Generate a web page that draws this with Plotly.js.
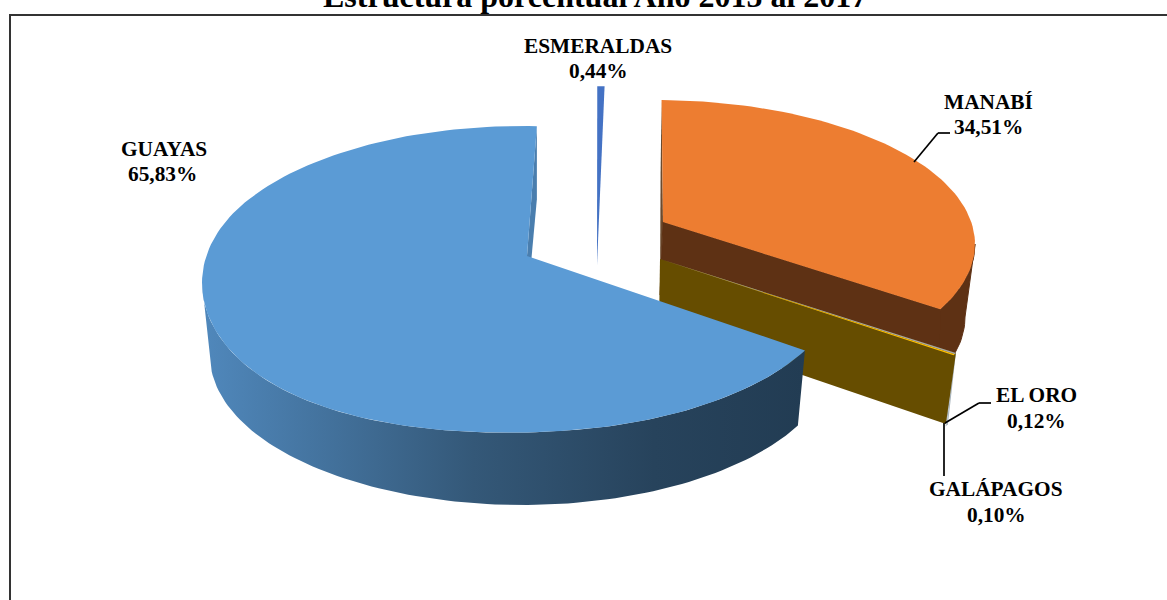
<!DOCTYPE html>
<html><head><meta charset="utf-8">
<script src="https://cdn.plot.ly/plotly-3.0.1.min.js"></script>
<style>html,body{margin:0;padding:0;background:#fff}#c{width:1167px;height:600px}</style>
</head><body><div id="c"></div>
<script>
const categories = ["MANABÍ","EL ORO","GALÁPAGOS","GUAYAS","ESMERALDAS"];
const values = [34.51,0.12,0.10,65.83,0.44];
const titleText = "Estructura porcentual Año 2015 al 2017";

// Projection of the tilted, exploded disc (style, not data)
const proj = {
 "MANABÍ":{ax:663,ay:222,cx:656,cy:244,a:319,b:144,bx:652,by:317,ba:313,bb:144,dx:-3,dy:73,rdy:73,cut:-1,sag:0},
 "EL ORO":{ax:660,ay:259,cx:652,cy:281,a:341,b:159,bx:644,by:354,ba:341,bb:155,dx:-1,dy:67,rdy:71,cut:-10,sag:0},
 "GALÁPAGOS":{ax:660,ay:259,cx:652,cy:281,a:341,b:159,bx:644,by:354,ba:341,bb:155,dx:-1,dy:67,rdy:71,cut:-10,sag:0},
 "GUAYAS":{ax:527,ay:256,cx:522,cy:279,a:320,b:153,bx:522,by:356,ba:312,bb:149,dx:-2,dy:73,rdy:73,cut:0,sag:9},
 "ESMERALDAS":{ax:597,ay:265,cx:582.4,cy:239,a:320,b:153,bx:582,by:312,ba:315,bb:150,dx:0,dy:73,rdy:73,cut:0,sag:0}
};
const faceCol = {"MANABÍ":"#ED7D31","EL ORO":"#A5A5A5","GALÁPAGOS":"#FFC000","GUAYAS":"#5B9BD5","ESMERALDAS":"#4472C4"};
const sideCol = {"MANABÍ":"#5E3114","EL ORO":"#A9B4BC","GALÁPAGOS":"#664D00","GUAYAS":"#233E56","ESMERALDAS":"#2F5597"};
const warp = d => d - 10*Math.sin(d*Math.PI/180) + 1;
const rim = (cx,cy,a,b,t,sag) => {
  const r=t*Math.PI/180;const m=((t%360)+360)%360;
  const s=(sag&&m>170&&m<300)?sag*Math.pow(Math.sin((m-170)*Math.PI/130),2):0;
  return [cx+a*Math.sin(r),cy-b*Math.cos(r)+s];
};

let cum=0; const spans={};
categories.forEach((c,i)=>{const s=cum;cum+=values[i]*3.6;spans[c]=[warp(s),warp(cum)];});
function arc(cx,cy,a,b,t0,t1,sag){const n=Math.max(2,Math.ceil(Math.abs(t1-t0)/1.5));const o=[];for(let i=0;i<=n;i++){o.push(rim(cx,cy,a,b,t0+(t1-t0)*i/n,sag));}return o;}
function poly(pts,color,extra,w){return Object.assign({type:'scatter',mode:'lines',x:pts.map(p=>p[0]).concat([pts[0][0]]),y:pts.map(p=>p[1]).concat([pts[0][1]]),fill:'toself',fillcolor:color,line:{width:w||0,color:color},hoverinfo:'skip',showlegend:false},extra||{});}
function outerWall(c,color,extra,w){const p=proj[c];const t0=Math.max(spans[c][0],90),t1=Math.min(spans[c][1],270);return poly(arc(p.cx,p.cy,p.a,p.b,t0,t1,p.sag).concat(arc(p.bx,p.by,p.ba,p.bb,t1,t0)),color,extra,w);}
function cutWall(c,t,color,w){const p=proj[c];const r=rim(p.cx,p.cy,p.a,p.b,t);return poly([r,[r[0]+p.cut,r[1]+p.rdy],[p.ax+p.dx,p.ay+p.dy],[p.ax,p.ay]],color,null,w);}
function face(c){const p=proj[c],[t0,t1]=spans[c];return poly([[p.ax,p.ay]].concat(arc(p.cx,p.cy,p.a,p.b,t0,t1,p.sag)),faceCol[c]);}

const sideScale=[[0,'#5088BC'],[0.45,'#345878'],[0.75,'#27435C'],[1,'#223C53']];
const traces=[
 cutWall("MANABÍ",spans["MANABÍ"][0],"#6B4A2E"),
 outerWall("MANABÍ",sideCol["MANABÍ"],null,1),
 cutWall("MANABÍ",spans["MANABÍ"][1],sideCol["MANABÍ"],1),
 face("MANABÍ"),
 outerWall("EL ORO",sideCol["EL ORO"]),
 outerWall("GALÁPAGOS",sideCol["EL ORO"]),
 cutWall("EL ORO",spans["EL ORO"][0],sideCol["GALÁPAGOS"]),
 face("EL ORO"),face("GALÁPAGOS"),
 outerWall("GUAYAS",'#345878',{fillgradient:{type:'horizontal',colorscale:sideScale}}),
 cutWall("GUAYAS",spans["GUAYAS"][1],"#4A7EAE"),
 face("GUAYAS"),
 face("ESMERALDAS")
];

const labelPos={"MANABÍ":[988,102,988,127],"EL ORO":[1036,395,1036,421],"GALÁPAGOS":[996,489,996,515],"GUAYAS":[164,149,162,174],"ESMERALDAS":[598,46,598,71]};
const pct=v=>v.toFixed(2).replace('.',',')+'%';
const lab=(x,y,t)=>({xref:'x',yref:'y',x,y,text:'<b>'+t+'</b>',showarrow:false,align:'center',xanchor:'center',yanchor:'middle',font:{family:'Liberation Serif',size:21.33,color:'#000'}});
const annotations=[];
categories.forEach((c,i)=>{const q=labelPos[c];annotations.push(lab(q[0],q[1],c));annotations.push(lab(q[2],q[3],pct(values[i])));});
annotations.push({xref:'paper',yref:'paper',x:595/1167,y:1,yshift:24,text:'<b>'+titleText+'</b>',showarrow:false,xanchor:'center',yanchor:'top',font:{family:'Liberation Serif',size:32,color:'#000'}});

const seg=(x0,y0,x1,y1)=>({type:'line',xref:'x',yref:'y',x0,y0,x1,y1,line:{color:'#000',width:1.7}});
const shapes=[
 {type:'rect',xref:'x',yref:'y',x0:10,y0:15,x1:1190,y1:640,line:{color:'#333',width:2},fillcolor:'rgba(0,0,0,0)',layer:'below'},
 seg(914,162,938,133),seg(938,133,950,133),
 seg(945,423,979,403),seg(979,403,991,403),
 seg(944,423,944,476)
];
Plotly.newPlot('c',traces,{width:1167,height:600,margin:{l:0,r:0,t:0,b:0},paper_bgcolor:'#fff',plot_bgcolor:'#fff',showlegend:false,
 xaxis:{range:[0,1167],visible:false,fixedrange:true},yaxis:{range:[600,0],visible:false,fixedrange:true},shapes,annotations},{staticPlot:true,displayModeBar:false});
</script></body></html>
